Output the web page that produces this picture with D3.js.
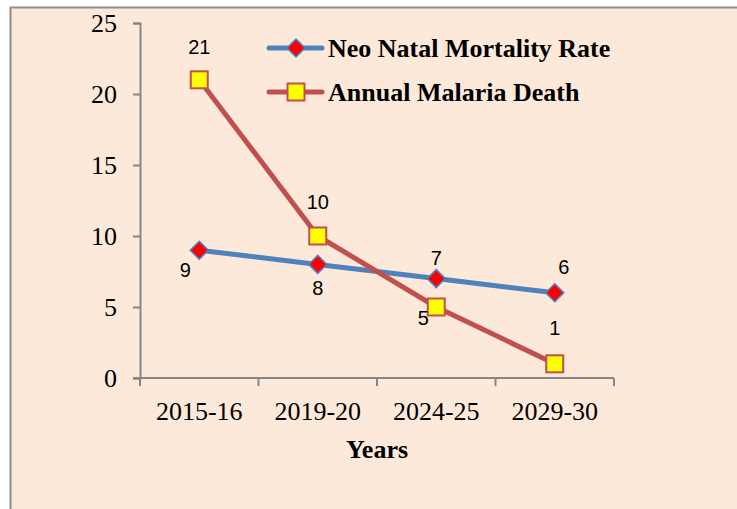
<!DOCTYPE html>
<html><head><meta charset="utf-8">
<script src="https://cdn.jsdelivr.net/npm/d3@7"></script>
<style>body{margin:0;background:#fff}svg{display:block}</style>
</head><body>
<script>
const categories = ["2015-16","2019-20","2024-25","2029-30"];
const neoNatal = [9,8,7,6];
const malaria = [21,10,5,1];
const yTicks = [0,5,10,15,20,25];
const seriesNames = ["Neo Natal Mortality Rate","Annual Malaria Death"];

const W=737,H=509;
const svg=d3.select("body").append("svg").attr("width",W).attr("height",H);
svg.append("rect").attr("x",10.5).attr("y",7.5).attr("width",W).attr("height",H).attr("fill","#FDE9D9").attr("stroke","#8c8c8c").attr("stroke-width",2);

const x=d3.scaleBand().domain(categories).range([140,614]);
const y=d3.scaleLinear().domain([0,25]).range([378,23]);
const serif="'Liberation Serif','Times New Roman',serif";
const sans="'Liberation Sans',Arial,sans-serif";

// y axis
const ya=svg.append("g").attr("transform","translate(140,0)").call(d3.axisLeft(y).tickValues(yTicks).tickSize(7).tickPadding(16));
ya.select(".domain").attr("stroke","#868686").attr("stroke-width",2);
ya.selectAll("line").attr("stroke","#868686").attr("stroke-width",2);
ya.selectAll("text").attr("font-family",serif).attr("font-size",26).attr("fill","#000").attr("dy","0.34em");
// x axis
const xa=svg.append("g").attr("transform","translate(0,378)").call(d3.axisBottom(x).tickSize(0));
xa.select(".domain").attr("stroke","#868686").attr("stroke-width",2).attr("d","M133,0H614");
xa.selectAll("text").attr("font-family",serif).attr("font-size",26).attr("fill","#000").attr("y",33).attr("dy","0.34em");
const bounds=[...categories.map(c=>x(c)),614];
xa.selectAll(".btick").data(bounds).enter().append("line").attr("x1",d=>d).attr("x2",d=>d).attr("y1",0).attr("y2",8).attr("stroke","#868686").attr("stroke-width",2);
svg.append("text").attr("x",377).attr("y",449).attr("dy","0.34em").attr("text-anchor","middle").attr("font-family",serif).attr("font-weight","bold").attr("font-size",26).text("Years");

const cx=c=>x(c)+x.bandwidth()/2;
const line=d3.line().x((d,i)=>cx(categories[i])).y(d=>y(d));
svg.append("path").datum(neoNatal).attr("d",line).attr("fill","none").attr("stroke","#4F81BD").attr("stroke-width",5);
svg.append("path").datum(malaria).attr("d",line).attr("fill","none").attr("stroke","#C0504D").attr("stroke-width",5);

const diamond=(g,px,py)=>g.append("path").attr("d",`M${px},${py-9}L${px+9},${py}L${px},${py+9}L${px-9},${py}Z`).attr("fill","#FF0000").attr("stroke","#4F81BD").attr("stroke-width",1.5);
const square=(g,px,py)=>g.append("rect").attr("x",px-8.5).attr("y",py-8.5).attr("width",17).attr("height",17).attr("fill","#FFFF00").attr("stroke","#C0504D").attr("stroke-width",2);
neoNatal.forEach((v,i)=>diamond(svg,cx(categories[i]),y(v)));
malaria.forEach((v,i)=>square(svg,cx(categories[i]),y(v)));

// data labels
const nnOff=[[-14,20],[0,24],[0,-21],[9,-26]];
const mOff=[[0,-33],[0,-34],[-13,11],[0,-36]];
const lbl=(px,py,t)=>svg.append("text").attr("x",px).attr("y",py).attr("dy","0.35em").attr("text-anchor","middle").attr("font-family",sans).attr("font-size",20).text(t);
neoNatal.forEach((v,i)=>lbl(cx(categories[i])+nnOff[i][0],y(v)+nnOff[i][1],v));
malaria.forEach((v,i)=>lbl(cx(categories[i])+mOff[i][0],y(v)+mOff[i][1],v));

// legend
const leg=[{y:48,c:"#4F81BD"},{y:92,c:"#C0504D"}];
leg.forEach((l,i)=>{
  svg.append("line").attr("x1",269).attr("x2",322).attr("y1",l.y).attr("y2",l.y).attr("stroke",l.c).attr("stroke-width",5).attr("stroke-linecap","round");
  if(i===0) diamond(svg,296,l.y); else square(svg,296,l.y);
  svg.append("text").attr("x",328).attr("y",l.y).attr("dy","0.34em").attr("font-family",serif).attr("font-weight","bold").attr("font-size",26).text(seriesNames[i]);
});
</script>
</body></html>
